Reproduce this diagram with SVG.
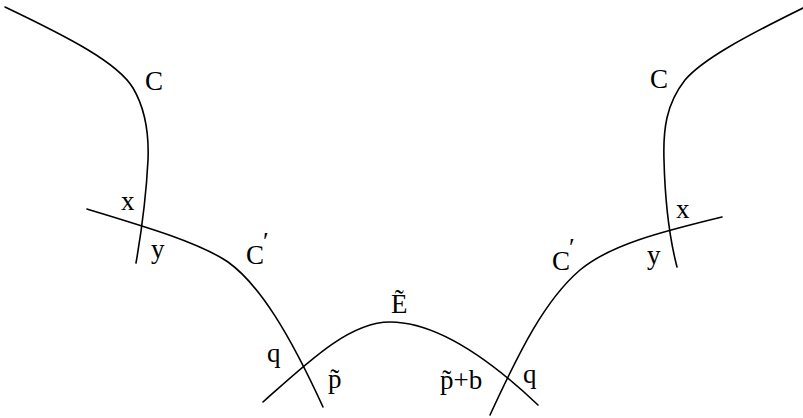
<svg xmlns="http://www.w3.org/2000/svg" width="803" height="418" viewBox="0 0 803 418">
<style>
.c{fill:none;stroke:#000;stroke-width:1.6;stroke-linecap:round}
text{font-family:"Liberation Serif","DejaVu Serif",serif;font-size:27px;fill:#000}
.pr{font-size:26px}
</style>
<rect width="803" height="418" fill="#fff"/>
<g id="connectors">
<path id="leftC" class="c" d="M5,7 C70,38 118,63 133,88 C146,110 149,135 148,160 C146,200 140,240 136,263"/>
<path id="leftCprime" class="c" d="M87,209 C150,228 200,243 228,262 C260,285 290,335 323,407"/>
<path id="E" class="c" d="M263,402 C310,360 350,322 390,322 C430,322 480,350 538,405"/>
<path id="rightCprime" class="c" d="M490,415 C520,350 545,300 580,270 C610,245 660,232 722,217"/>
<path id="rightC" class="c" d="M803,8 C742,38 702,60 685,80 C666,104 663,130 664,160 C665,200 670,240 677,267"/>
</g>
<g id="labels">
<text x="145" y="90">C</text>
<text x="121" y="210">x</text>
<text x="151" y="258">y</text>
<text x="246" y="264">C<tspan class="pr" dx="-1" dy="-14">′</tspan></text>
<text x="267" y="362">q</text>
<text x="328" y="388">p̃</text>
<text x="391" y="313">Ẽ</text>
<text x="440" y="389">p̃+b</text>
<text x="523" y="383">q</text>
<text x="552" y="270">C<tspan class="pr" dx="-1" dy="-14">′</tspan></text>
<text x="650" y="88">C</text>
<text x="676" y="218">x</text>
<text x="647" y="264">y</text>
</g>
</svg>
